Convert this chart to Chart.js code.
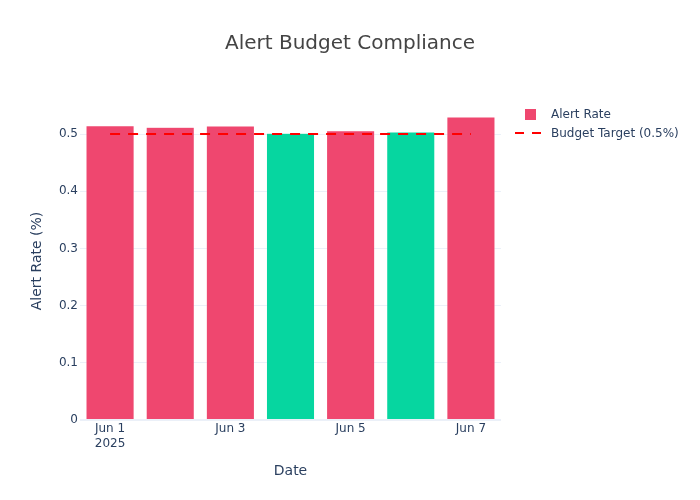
<!DOCTYPE html>
<html><head><meta charset="utf-8">
<script src="https://cdn.jsdelivr.net/npm/chart.js@4.4.1/dist/chart.umd.min.js"></script>
<style>html,body{margin:0;padding:0;background:#fff}#wrap{width:700px;height:500px}</style>
</head><body><div id="wrap"><canvas id="c" width="700" height="500"></canvas></div>
<script>
const dates = ['Jun 1','Jun 2','Jun 3','Jun 4','Jun 5','Jun 6','Jun 7'];
const xTickLabels = [['Jun 1','2025'],'','Jun 3','','Jun 5','','Jun 7'];
const alertRate = [0.5145,0.5117,0.514,0.5012,0.5058,0.5035,0.5297];
const budgetTarget = [0.5,0.5,0.5,0.5,0.5,0.5,0.5];
const withinBudget = [false,false,false,true,false,true,false];
const yTicks = [0,0.1,0.2,0.3,0.4,0.5];

const RED = '#EF476F', GREEN = '#06D6A0', INK = '#2a3f5f', FONT = '"DejaVu Sans", Verdana, sans-serif';

const overlay = {
  id: 'overlay',
  afterDraw(chart) {
    const c = chart.ctx;
    c.save();
    c.fillStyle = '#444';
    c.font = '20px ' + FONT;
    c.textAlign = 'center'; c.textBaseline = 'middle';
    c.fillText('Alert Budget Compliance', 350, 44);
    // legend
    c.font = '12px ' + FONT;
    c.textAlign = 'left';
    c.fillStyle = RED;
    c.fillRect(525, 109, 11, 11);
    c.fillStyle = INK;
    c.fillText(chart.data.datasets[0].label, 551, 115);
    c.strokeStyle = 'red'; c.lineWidth = 2; c.setLineDash([9,8]);
    c.beginPath(); c.moveTo(515, 133); c.lineTo(541, 133); c.stroke();
    c.setLineDash([]);
    c.fillText(chart.data.datasets[1].label, 551, 134);
    c.restore();
  }
};

new Chart(document.getElementById('c'), {
  data: {
    labels: dates,
    datasets: [
      { type: 'bar', label: 'Alert Rate', data: alertRate,
        backgroundColor: withinBudget.map(ok => ok ? GREEN : RED),
        borderColor: 'rgba(255,255,255,0.5)', borderWidth: 0.5,
        categoryPercentage: 0.8, barPercentage: 1, order: 2 },
      { type: 'line', label: 'Budget Target (0.5%)', data: budgetTarget,
        borderColor: 'red', borderWidth: 2, borderDash: [10, 8],
        pointRadius: 0, fill: false, order: 1 }
    ]
  },
  options: {
    responsive: false, animation: false, devicePixelRatio: 1,
    layout: { padding: { left: 0, top: 102, right: 199, bottom: 0 } },
    plugins: { legend: { display: false }, tooltip: { enabled: false } },
    scales: {
      x: {
        offset: true,
        grid: { display: false, drawTicks: false },
        border: { display: false },
        ticks: { autoSkip: false, maxRotation: 0, padding: 2, color: INK,
          font: { family: FONT, size: 12 },
          callback: (v, i) => xTickLabels[i] },
        title: { display: true, text: 'Date', color: INK, font: { family: FONT, size: 14 }, padding: { top: 4, bottom: 20 } },
        afterFit: s => { s.height = 80; }
      },
      y: {
        min: 0, max: 0.556,
        grid: { color: '#EBF0F8', drawTicks: false, lineWidth: ctx => ctx.tick && ctx.tick.value === 0 ? 2 : 1 },
        border: { display: false },
        afterBuildTicks: a => { a.ticks = yTicks.map(v => ({ value: v })); },
        ticks: { padding: 2, color: INK, font: { family: FONT, size: 12 },
          callback: v => v === 0 ? '0' : v.toFixed(1) },
        title: { display: true, text: 'Alert Rate (%)', color: INK, font: { family: FONT, size: 14 }, padding: { top: 29, bottom: 0 } },
        afterFit: s => { s.width = 80; }
      }
    }
  },
  plugins: [overlay]
});
</script></body></html>
